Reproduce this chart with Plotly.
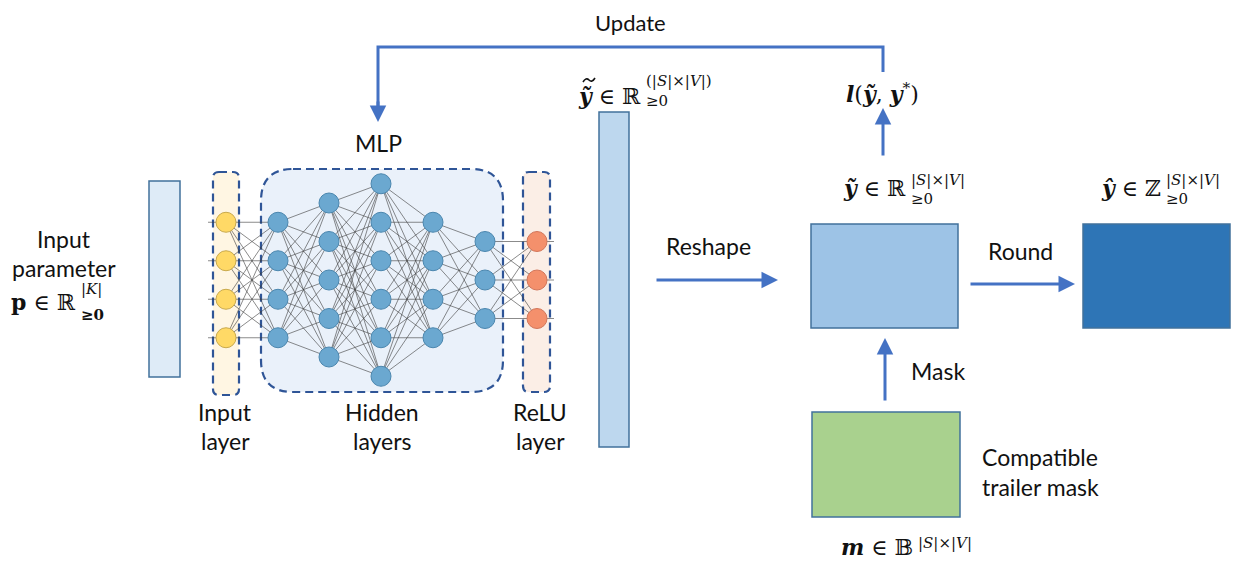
import plotly.graph_objects as go

# ---------------- data ----------------
W, H = 1254, 564
OFF = 8  # page body margin of the browser, compensated in the axis ranges
layer_sizes = [4, 4, 5, 6, 4, 3, 3]          # input, 5 hidden, ReLU output
layer_x = [226, 278, 329, 381, 433, 485, 537]
layer_kind = ["in", "h", "h", "h", "h", "h", "out"]
node_gap = 38.5
net_center_y = 280

text_labels = [  # (text, x, y)
    ("Update", 630, 22),
    ("MLP", 378, 143),
    ("Input", 64, 239), ("parameter", 64, 268),
    ("Input", 225, 412), ("layer", 225, 441),
    ("Hidden", 382, 412), ("layers", 382, 441),
    ("ReLU", 540, 412), ("layer", 540, 441),
    ("Reshape", 708, 246),
    ("Round", 1020, 251),
    ("Mask", 938, 371),
    ("Compatible", 1040, 457), ("trailer mask", 1040, 487),
]

math_labels = [  # (join x, main y, main, sup, sup y, sub, sub y)
    (78, 302, "<b>p</b> ∈ ℝ", "|<i>K</i>|", 289, "<b>≥0</b>", 315),
    (643, 96, "<b><i>ỹ</i></b> ∈ ℝ", "(|<i>S</i>|×|<i>V</i>|)", 81, "≥0", 101),
    (908, 188, "<b><i>ỹ</i></b> ∈ ℝ", "|<i>S</i>|×|<i>V</i>|", 180, "≥0", 199),
    (1163, 188, "<b><i>ŷ</i></b> ∈ ℤ", "|<i>S</i>|×|<i>V</i>|", 180, "≥0", 199),
    (915, 547, "<b><i>m</i></b> ∈ 𝔹", "|<i>S</i>|×|<i>V</i>|", 543, "", 0),
]

# ---------------- styles ----------------
ARROW = "#4472C4"
BORDER = "#41719C"
DASH = "#2F5597"
FONT = "Lato"
MATH = "DejaVu Serif"
node_style = {
    "in": ("#FFD966", "#C9A94A"),
    "h": ("#6BA8D0", "#4A86AE"),
    "out": ("#F4906C", "#D2765A"),
}

fig = go.Figure()


def rounded(x0, y0, x1, y1, r):
    return (f"M {x0+r},{y0} L {x1-r},{y0} Q {x1},{y0} {x1},{y0+r} "
            f"L {x1},{y1-r} Q {x1},{y1} {x1-r},{y1} L {x0+r},{y1} "
            f"Q {x0},{y1} {x0},{y1-r} L {x0},{y0+r} Q {x0},{y0} {x0+r},{y0} Z")


shapes = []
for (x0, y0, x1, y1, fill) in [
    (149, 181, 180, 377, "#DEEBF7"),
    (599, 112, 629, 447, "#BDD7EE"),
    (811, 224, 958, 328, "#9DC3E6"),
    (1083, 224, 1230, 328, "#2E75B6"),
    (812, 412, 960, 517, "#A9D18E"),
]:
    shapes.append(dict(type="rect", x0=x0, y0=y0, x1=x1, y1=y1, fillcolor=fill,
                       line=dict(color=BORDER, width=1.5), layer="below"))
for (x0, y0, x1, y1, r, fill) in [
    (213, 172, 239, 395, 6, "#FFF6E3"),
    (261, 169, 503, 392, 32, "#EAF1FA"),
    (523, 172, 550, 392, 6, "#FBEEE6"),
]:
    shapes.append(dict(type="path", path=rounded(x0, y0, x1, y1, r), fillcolor=fill,
                       line=dict(color=DASH, width=2.2, dash="8px,5px"), layer="below"))
shapes.append(dict(type="path", path="M 883,72 L 883,47 L 378,47 L 378,112",
                   line=dict(color=ARROW, width=3)))
# second tilde of the double-tilde y
shapes.append(dict(type="path", path="M 583,82 Q 586,77 589,80 Q 592,83 595,78",
                   line=dict(color="#111", width=1.6)))
fig.update_layout(shapes=shapes)

# ---------------- network ----------------
positions = []
for n, x in zip(layer_sizes, layer_x):
    ys = [net_center_y + (i - (n - 1) / 2) * node_gap for i in range(n)]
    positions.append([(x, y) for y in ys])

ex, ey = [], []
for a, b in zip(positions[:-1], positions[1:]):
    for (x0, y0) in a:
        for (x1, y1) in b:
            ex += [x0, x1, None]
            ey += [y0, y1, None]
for (x, y) in positions[0]:
    ex += [208, x, None]
    ey += [y, y, None]
for (x, y) in positions[-1]:
    ex += [x, 554, None]
    ey += [y, y, None]
fig.add_trace(go.Scatter(x=ex, y=ey, mode="lines",
                         line=dict(color="rgba(60,60,60,0.75)", width=0.8),
                         hoverinfo="skip", showlegend=False))

for pts, kind in zip(positions, layer_kind):
    fill, edge = node_style[kind]
    fig.add_trace(go.Scatter(x=[p[0] for p in pts], y=[p[1] for p in pts], mode="markers",
                             marker=dict(size=20, color=fill, line=dict(color=edge, width=1)),
                             hoverinfo="skip", showlegend=False))

# ---------------- annotations ----------------
ann = []
for (t, x, y) in text_labels:
    ann.append(dict(x=x, y=y, text=t, showarrow=False, xanchor="center", yanchor="middle",
                    font=dict(family=FONT, size=22 if t == "Update" else 23, color="#111")))

for (xj, ym, main, sup, ysup, sub, ysub) in math_labels:
    ann.append(dict(x=xj, y=ym, text=main, showarrow=False, xanchor="right", yanchor="middle",
                    font=dict(family=MATH, size=22, color="#111")))
    ann.append(dict(x=xj + 1, y=ysup, text=sup, showarrow=False, xanchor="left", yanchor="middle",
                    font=dict(family=MATH, size=15, color="#111")))
    if sub:
        ann.append(dict(x=xj + 1, y=ysub, text=sub, showarrow=False, xanchor="left", yanchor="middle",
                        font=dict(family=MATH, size=15, color="#111")))

ann.append(dict(x=882, y=93, text="<b><i>l</i></b>(<b><i>ỹ</i></b>, <b><i>y</i></b><sup>*</sup>)",
                showarrow=False, xanchor="center", yanchor="middle",
                font=dict(family=MATH, size=22, color="#111")))

arrows = [  # (tail x, tail y, head x, head y)
    (378, 100, 378, 122),
    (883, 157, 883, 108),
    (655, 280, 778, 280),
    (969, 284, 1075, 284),
    (885, 402, 885, 338),
]
for (ax_, ay_, x_, y_) in arrows:
    ann.append(dict(x=x_, y=y_, ax=ax_, ay=ay_, xref="x", yref="y", axref="x", ayref="y",
                    text="", showarrow=True, arrowhead=2, arrowsize=1.1, arrowwidth=3,
                    arrowcolor=ARROW))

fig.update_layout(
    annotations=ann,
    width=W - OFF, height=H - OFF, autosize=False,
    margin=dict(l=0, r=0, t=0, b=0),
    paper_bgcolor="white", plot_bgcolor="white",
    xaxis=dict(range=[OFF, W], visible=False, fixedrange=True),
    yaxis=dict(range=[H, OFF], visible=False, fixedrange=True),
    showlegend=False,
)

fig.write_html("out.html")
